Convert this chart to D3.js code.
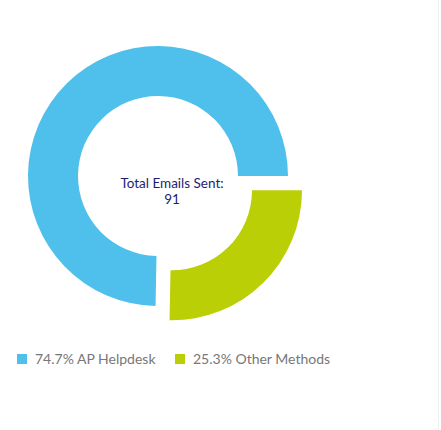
<!DOCTYPE html>
<html>
<head>
<meta charset="utf-8">
<script src="https://cdn.jsdelivr.net/npm/d3@7"></script>
<style>
  body { margin: 0; background: #fff; }
  svg { display: block; }
</style>
</head>
<body>
<script>
// data
var labels = ["Other Methods", "AP Helpdesk"];
var percents = [25.3, 74.7];
var colors = ["#bbcf07", "#4fbfec"];
var totalSent = 91;

var width = 441, height = 430;
var cx = 158, cy = 176;
var outerR = 130, innerR = 80;

var svg = d3.select("body").append("svg")
    .attr("width", width)
    .attr("height", height);

// right border line
svg.append("line")
    .attr("x1", 438.5).attr("x2", 438.5)
    .attr("y1", 0).attr("y2", height)
    .style("stroke", "#eeeeee")
    .style("stroke-width", 1);

var pie = d3.pie()
    .sort(null)
    .startAngle(Math.PI / 2)
    .endAngle(Math.PI / 2 + 2 * Math.PI);

var arc = d3.arc().innerRadius(innerR).outerRadius(outerR);

var g = svg.append("g")
    .attr("transform", "translate(" + cx + "," + cy + ")");

var explode = 20;

g.selectAll(".slice")
    .data(pie(percents))
    .enter()
    .append("path")
    .attr("class", "slice")
    .attr("d", arc)
    .attr("transform", function(d, i) {
        if (i != 0) return null;
        var mid = (d.startAngle + d.endAngle) / 2;
        return "translate(" + (Math.sin(mid) * explode) + "," + (-Math.cos(mid) * explode) + ")";
    })
    .style("fill", function(d, i) { return colors[i]; });

//Center label (sits a bit right of the ring centre, like the original)
var label = g.append("text")
    .attr("x", 14)
    .attr("y", 12)
    .style("text-anchor", "middle")
    .style("font-family", "Lato, sans-serif")
    .style("font-size", "13.5px")
    .style("fill", "#1e1e72");

label.append("tspan").attr("x", 14).text("Total Emails Sent:");
label.append("tspan").attr("x", 14).attr("dy", 16).text(totalSent);

//Legend
var legendOrder = [1, 0];
var legendX = [17, 175];
var legend = svg.selectAll(".legend")
    .data(legendOrder)
    .enter()
    .append("g")
    .attr("class", "legend")
    .attr("transform", function(d, i) { return "translate(" + legendX[i] + ",354)"; });

legend.append("rect")
    .attr("width", 10)
    .attr("height", 10)
    .style("fill", function(d) { return colors[d]; });

legend.append("text")
    .attr("x", 18)
    .attr("y", 10)
    .style("font-family", "Lato, sans-serif")
    .style("font-size", "14px")
    .style("fill", "#777")
    .text(function(d) { return percents[d].toFixed(1) + "% " + labels[d]; });
</script>
</body>
</html>
